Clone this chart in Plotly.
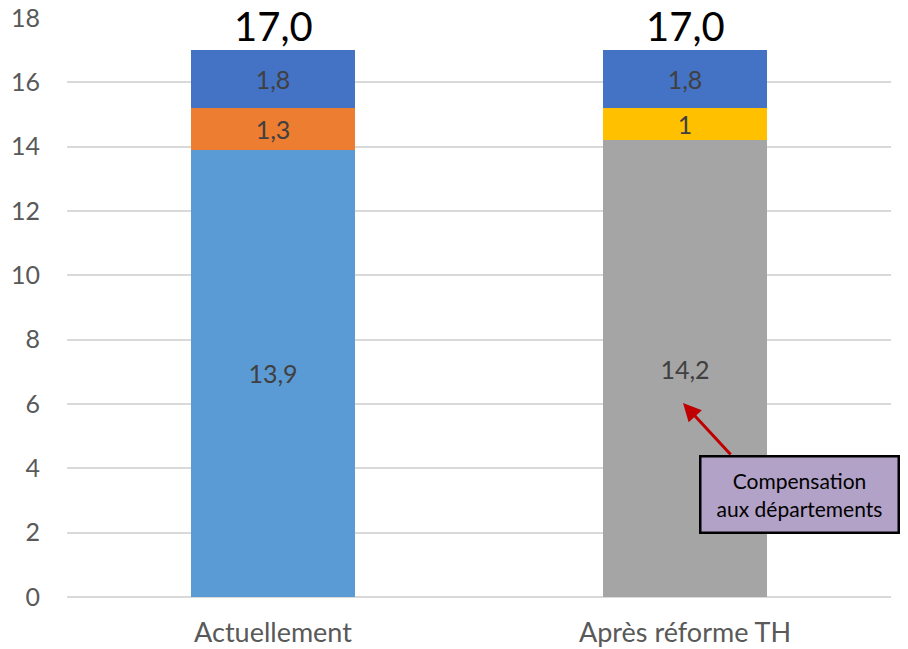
import plotly.graph_objects as go

categories = ["Actuellement", "Après réforme TH"]
base_values = [13.9, 14.2]
middle_values = [1.3, 1.0]
top_values = [1.8, 1.8]
totals = [17.0, 17.0]

base_colors = ["#5B9BD5", "#A5A5A5"]
middle_colors = ["#ED7D31", "#FFC000"]
top_color = "#4472C4"


def fr(v, force_decimal=True):
    if not force_decimal and float(v).is_integer():
        return str(int(v))
    return f"{v:.1f}".replace(".", ",")


FONT = "Lato, 'Open Sans', sans-serif"
label_font = dict(family=FONT, size=25, color="#404040")
seg = dict(textposition="inside", insidetextanchor="middle", textfont=label_font,
           textangle=0, constraintext="none", width=0.4)

fig = go.Figure()
fig.add_bar(x=categories, y=base_values, marker=dict(color=base_colors, line=dict(width=0)),
            text=[fr(v) for v in base_values], **seg)
fig.add_bar(x=categories, y=middle_values, marker=dict(color=middle_colors, line=dict(width=0)),
            text=[fr(v, False) for v in middle_values], **seg)
fig.add_bar(x=categories, y=top_values, marker=dict(color=top_color, line=dict(width=0)),
            text=[fr(v) for v in top_values], **seg)

for c, t in zip(categories, totals):
    fig.add_annotation(x=c, y=t, text=fr(t), showarrow=False, yanchor="bottom",
                       yshift=-2, font=dict(family=FONT, size=40, color="#000000"))

# Red arrow pointing at the grey segment
fig.add_annotation(xref="paper", yref="y", x=0.7476, y=6.03, ax=49, ay=53,
                   text="", showarrow=True, arrowhead=2, arrowsize=1.2,
                   arrowwidth=3, arrowcolor="#C00000")
# Callout box
fig.add_annotation(xref="paper", yref="y", x=0.889, y=3.2, showarrow=False,
                   xanchor="center", yanchor="middle",
                   text="Compensation<br>aux départements", align="center",
                   font=dict(family=FONT, size=21, color="#000000"),
                   bgcolor="#B3A2C7", bordercolor="#000000", borderwidth=2.5,
                   width=194, height=72, borderpad=1)

fig.update_layout(
    barmode="stack",
    width=908, height=649,
    margin=dict(l=67, r=17, t=18, b=52, autoexpand=False),
    plot_bgcolor="white", paper_bgcolor="white",
    showlegend=False,
    font=dict(family=FONT, color="#595959"),
    xaxis=dict(tickfont=dict(size=27, color="#595959"), showgrid=False,
               showline=False, ticks="", automargin=False, ticklabelstandoff=17),
    yaxis=dict(range=[0, 18], dtick=2, tickfont=dict(size=25, color="#595959"),
               gridcolor="#D9D9D9", gridwidth=1.5, zeroline=True,
               zerolinecolor="#D9D9D9", zerolinewidth=1.5, ticklabelstandoff=26,
               automargin=False),
    uniformtext=dict(mode=False),
)

fig.write_html("out.html")
